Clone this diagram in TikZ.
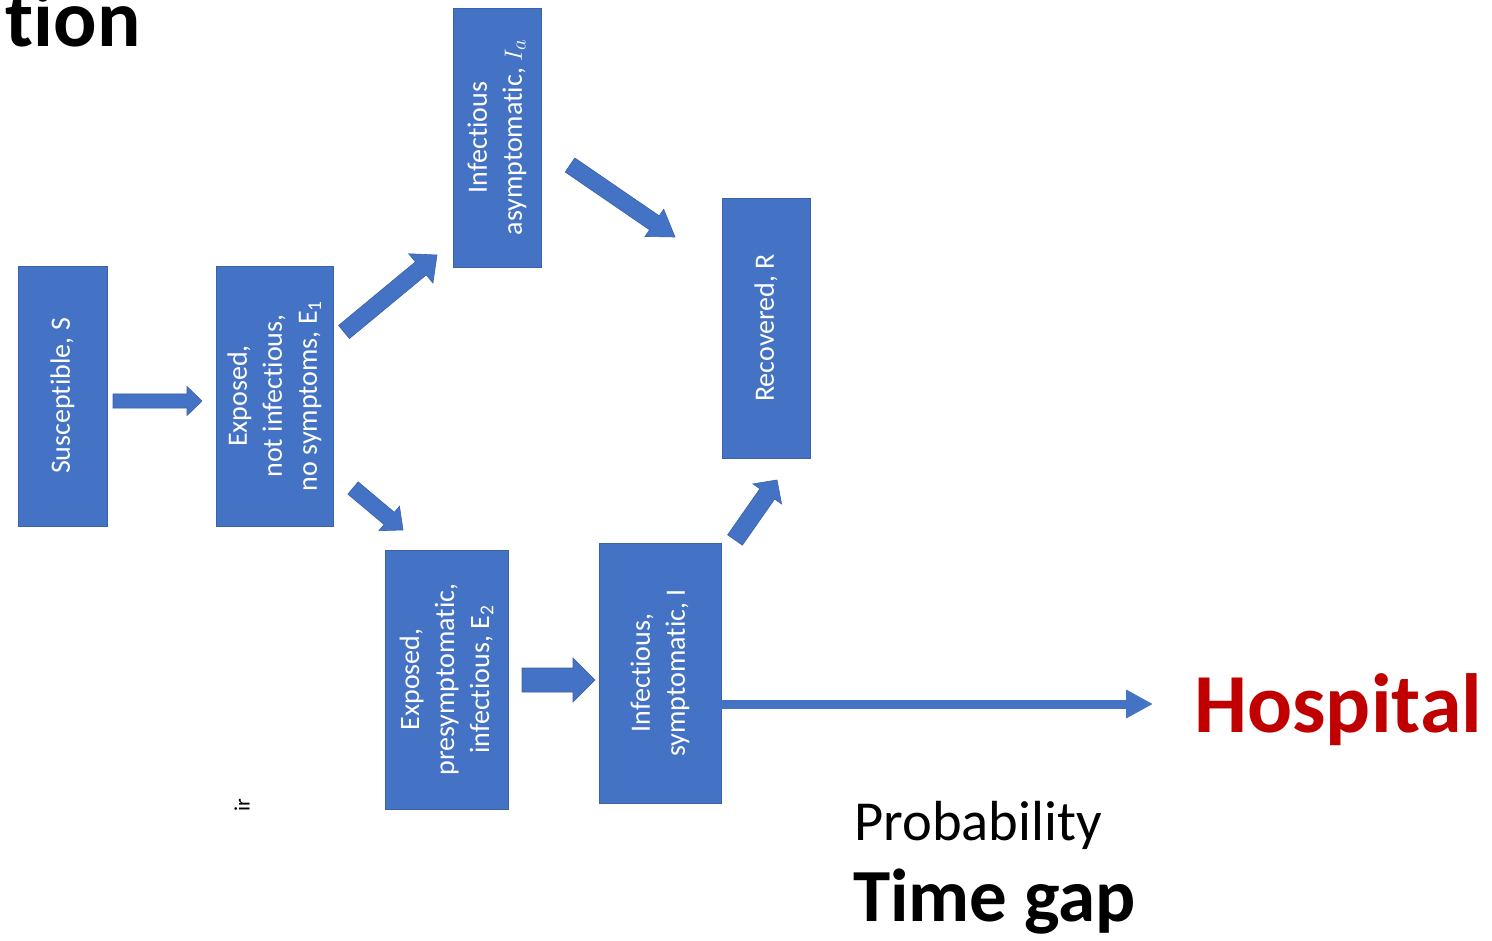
\documentclass[tikz,border=0pt]{standalone}
\usepackage{fontspec}
\setmainfont{Carlito}[Ligatures=NoCommon]
\usetikzlibrary{calc,arrows.meta}
\definecolor{boxblue}{HTML}{4472C4}
\definecolor{boxedge}{HTML}{3A62A8}
\definecolor{hospred}{HTML}{C00000}
\tikzset{
  compartment/.style={draw=boxedge, line width=0.8pt, fill=boxblue, text=white,
    rotate=90, align=center, inner sep=0pt,
    font=\fontsize{28}{35}\selectfont},
  blockarrow/.style={fill=boxblue, draw=boxedge, line width=0.6pt, line join=miter},
  label/.style={inner sep=0pt, text=black}
}
% block arrow: tail, tip, shaft width, head width, head length
\newcommand\blockarrow[5]{%
  \coordinate (ba-h) at ($(#2)!#5!(#1)$);
  \filldraw[blockarrow]
    ($(#1)!#3/2!90:(#2)$) -- ($(ba-h)!#3/2!90:(#2)$) --
    ($(ba-h)!#4/2!90:(#2)$) -- (#2) --
    ($(ba-h)!#4/2!-90:(#2)$) -- ($(ba-h)!#3/2!-90:(#2)$) --
    ($(#1)!#3/2!-90:(#2)$) -- cycle;
}
\begin{document}
\begin{tikzpicture}[x=1pt,y=-1pt]
\useasboundingbox (0,0) rectangle (1492,941);
\fill[white] (0,0) rectangle (1492,941);

% compartments (sizes given before rotation: width = vertical extent)
\node[compartment, minimum width=260pt, minimum height=89pt] (S) at (62.5,396) {Susceptible, S};
\node[compartment, minimum width=260pt, minimum height=117pt] (E1) at (274.5,396)
  {Exposed,\\not infectious,\\no symptoms, E\textsubscript{1}};
\node[compartment, minimum width=259pt, minimum height=88pt] (Ia) at (497,137.5)
  {Infectious\\asymptomatic, $I_a$};
\node[compartment, minimum width=260pt, minimum height=88pt] (R) at (766,328) {Recovered, R};
\node[compartment, minimum width=259pt, minimum height=123pt] (E2) at (446.5,679.5)
  {Exposed,\\presymptomatic,\\infectious, E\textsubscript{2}};
\node[compartment, minimum width=260pt, minimum height=122pt] (I) at (660,673)
  {Infectious,\\symptomatic, I};

% arrow ends between compartments
\coordinate (sE1a) at (113,401);   \coordinate (sE1b) at (202,401);
\coordinate (e1Iaa) at (344,332);  \coordinate (e1Iab) at (437,255);
\coordinate (e1E2a) at (353,488);  \coordinate (e1E2b) at (403,530);
\coordinate (iaRa) at (570,165);   \coordinate (iaRb) at (675,237);
\coordinate (e2Ia) at (522,680);   \coordinate (e2Ib) at (595,680);
\coordinate (iRa) at (735,540);    \coordinate (iRb) at (777,480);

\blockarrow{sE1a}{sE1b}{14pt}{29pt}{15pt}
\blockarrow{e1Iaa}{e1Iab}{17pt}{38pt}{21pt}
\blockarrow{e1E2a}{e1E2b}{16pt}{32pt}{18pt}
\blockarrow{iaRa}{iaRb}{17pt}{33pt}{25pt}
\blockarrow{e2Ia}{e2Ib}{24pt}{44pt}{22pt}
\blockarrow{iRa}{iRb}{18pt}{35pt}{17pt}

% texts
\node[label, anchor=base east, font=\fontsize{81}{81}\selectfont\bfseries] (title) at (141,47) {tion};
\node[label, anchor=base west, text=hospred, font=\fontsize{84}{84}\selectfont\bfseries] (hosp) at (1194,732) {Hospital};
\node[label, anchor=base west, font=\fontsize{56.5}{56.5}\selectfont] (prob) at (854,840) {Probability};
\node[label, anchor=base west, font=\fontsize{75}{75}\selectfont\bfseries] (gap) at (853,921) {Time gap};
\node[label, rotate=90, font=\fontsize{22}{22}\selectfont] (frag) at (242,805) {ir};

% transfer to hospital
\coordinate (hstart) at (I.south |- 0,704);
\draw[boxblue, line width=9pt, shorten >=41pt, -{Triangle[width=27pt,length=27pt]}]
  (hstart) -- (hstart -| hosp.west);
\end{tikzpicture}
\end{document}
